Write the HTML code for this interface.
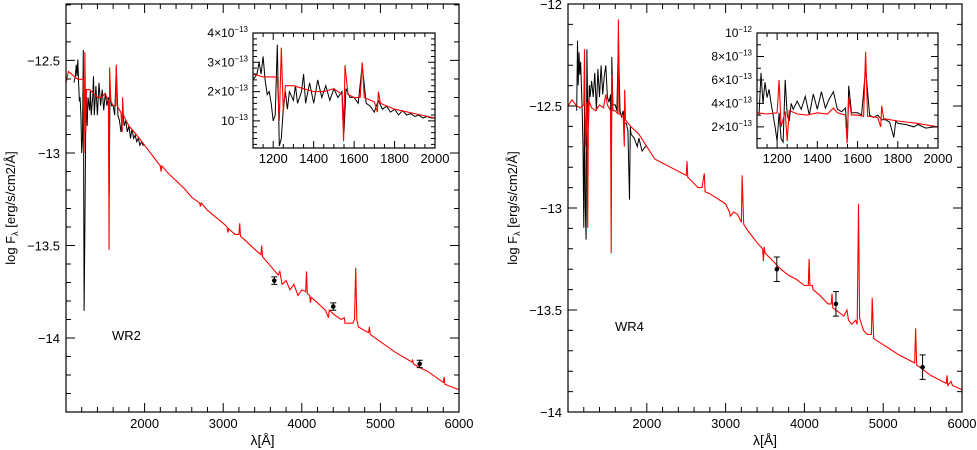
<!DOCTYPE html>
<html><head><meta charset="utf-8"><style>
html,body{margin:0;padding:0;background:#fff;}
svg{display:block;font-family:"Liberation Sans",sans-serif;}
</style></head><body>
<svg id="chart" width="977" height="450" viewBox="0 0 977 450" xmlns="http://www.w3.org/2000/svg"></svg>
<script>
// ---------- WR2 data ----------
const wr2InsetRedWl=[1100,1150,1200,1220,1230,1240,1250,1260,1300,1350,1400,1450,1500,1540,1548,1555,1570,1600,1630,1640,1650,1700,1715,1720,1730,1800,1900,2000];
const wr2InsetRedF=[2.6,2.5,2.5,2.5,1.0,3.5,1.3,2.2,2.2,2.1,2.0,2.0,2.1,1.9,0.3,2.9,1.9,1.8,1.8,3.0,1.8,1.65,1.3,2.0,1.6,1.4,1.25,1.1];
const wr2BlackWl=[1100,1120,1130,1140,1150,1160,1170,1180,1190,1200,1210,1220,1230,1240,1250,1260,1270,1280,1300,1310,1320,1340,1350,1360,1380,1400,1420,1440,1460,1480,1500,1520,1540,1550,1560,1580,1600,1620,1640,1660,1680,1700,1720,1740,1760,1780,1800,1820,1840,1860,1880,1900,1920,1940,1960,1980,2000];
const wr2BlackF=[2.4,2.6,3.0,2.6,3.2,2.4,1.9,2.0,1.6,1.0,1.2,3.6,0.14,0.4,1.4,2.0,1.4,2.0,1.7,2.2,1.6,2.0,2.6,1.6,2.3,1.6,2.4,1.8,2.2,1.7,2.1,1.8,2.0,0.6,2.1,1.8,1.8,1.6,2.9,1.6,1.5,1.3,1.7,1.4,1.5,1.3,1.4,1.2,1.35,1.2,1.25,1.15,1.2,1.1,1.15,1.1,1.1];
const wr2RedWl=[1000,1030,2200,2210,2220,2300,2500,2600,2700,2710,2720,2800,3000,3050,3060,3070,3150,3200,3210,3220,3300,3400,3480,3490,3500,3600,3700,3720,3750,3800,3850,3900,3950,4000,4050,4060,4070,4100,4110,4120,4200,4300,4340,4350,4400,4500,4540,4550,4600,4650,4670,4686,4700,4720,4800,4850,4860,4870,4900,5000,5200,5400,5410,5420,5500,5600,5800,5810,5820,6000];
const wr2RedLog=[-12.62,-12.56,-13.07,-13.1,-13.07,-13.11,-13.19,-13.24,-13.27,-13.29,-13.27,-13.31,-13.38,-13.4,-13.43,-13.41,-13.44,-13.44,-13.38,-13.45,-13.48,-13.52,-13.55,-13.5,-13.56,-13.61,-13.66,-13.64,-13.71,-13.69,-13.74,-13.71,-13.77,-13.74,-13.75,-13.64,-13.76,-13.77,-13.81,-13.78,-13.81,-13.85,-13.89,-13.85,-13.87,-13.9,-13.89,-13.92,-13.92,-13.92,-13.9,-13.62,-13.9,-13.94,-13.96,-13.97,-13.94,-13.98,-13.99,-14.02,-14.08,-14.13,-14.12,-14.14,-14.16,-14.18,-14.24,-14.21,-14.25,-14.28];
const wr2PhotWl=[3650,4400,5500];
const wr2PhotLog=[-13.69,-13.83,-14.14];
const wr2PhotErr=[0.02,0.02,0.02];
// ---------- WR4 data ----------
const wr4InsetRedWl=[1100,1150,1200,1210,1220,1240,1250,1260,1300,1350,1400,1450,1480,1500,1540,1548,1556,1570,1600,1630,1640,1650,1700,1715,1720,1730,1800,1900,2000];
const wr4InsetRedF=[3.2,3.1,3.2,6.0,2.0,3.3,0.8,3.4,3.1,3.0,3.2,3.1,3.6,3.2,3.0,0.6,4.5,3.0,3.0,2.9,8.4,2.9,2.8,2.0,3.8,2.7,2.5,2.3,2.0];
const wr4BlackWl=[1110,1120,1130,1140,1150,1160,1170,1180,1190,1200,1210,1220,1230,1240,1250,1260,1270,1280,1300,1320,1340,1360,1380,1400,1420,1440,1460,1480,1500,1520,1540,1550,1556,1570,1600,1620,1640,1660,1680,1700,1720,1740,1760,1780,1790,1800,1840,1880,1900,1940,1980,2000];
const wr4BlackF=[3.0,6.6,4.0,5.8,4.5,5.2,4.0,3.0,2.0,0.8,3.2,1.0,0.7,6.0,3.0,2.5,4.0,3.5,4.2,3.5,4.6,3.0,4.8,3.5,5.0,3.6,4.4,5.0,3.5,3.3,3.6,1.0,5.5,3.2,3.2,3.0,7.0,3.0,2.8,3.0,2.6,2.6,2.4,1.1,2.5,2.3,2.2,2.0,2.2,1.9,2.0,2.0];
const wr4RedWl=[1000,1050,2100,2200,2300,2400,2500,2510,2520,2600,2650,2700,2730,2740,2800,3000,3050,3060,3100,3150,3200,3210,3230,3300,3400,3470,3480,3490,3500,3600,3700,3800,3900,4000,4050,4060,4070,4100,4110,4200,4300,4340,4350,4360,4400,4500,4540,4560,4600,4650,4670,4686,4700,4750,4800,4850,4860,4880,5000,5200,5400,5411,5425,5500,5600,5800,5810,5820,5860,5880,6000];
const wr4RedLog=[-12.5,-12.47,-12.76,-12.78,-12.8,-12.82,-12.84,-12.77,-12.85,-12.88,-12.9,-12.9,-12.83,-12.92,-12.93,-12.98,-13.02,-13.04,-13.02,-13.03,-13.07,-12.84,-13.08,-13.12,-13.17,-13.2,-13.26,-13.19,-13.22,-13.26,-13.3,-13.33,-13.35,-13.38,-13.38,-13.25,-13.38,-13.38,-13.4,-13.43,-13.47,-13.47,-13.42,-13.49,-13.5,-13.53,-13.5,-13.55,-13.57,-13.55,-13.57,-12.98,-13.54,-13.6,-13.62,-13.62,-13.44,-13.64,-13.67,-13.72,-13.76,-13.59,-13.77,-13.79,-13.82,-13.86,-13.82,-13.87,-13.85,-13.87,-13.89];
const wr4PhotWl=[3650,4400,5500];
const wr4PhotLog=[-13.3,-13.47,-13.78];
const wr4PhotErr=[0.06,0.06,0.06];

const NS="http://www.w3.org/2000/svg";
const svg=document.getElementById('chart');
function mk(tag,attrs,parent){const e=document.createElementNS(NS,tag);for(const k in attrs)e.setAttribute(k,attrs[k]);(parent||svg).appendChild(e);return e;}
function scale(d0,d1,r0,r1){return v=>r0+(v-d0)/(d1-d0)*(r1-r0);}
function pathD(xs,ys,sx,sy){return xs.map((x,i)=>(i?'L':'M')+sx(x).toFixed(1)+','+sy(ys[i]).toFixed(1)).join('');}

function frame(g,x0,y0,x1,y1,sx,sy,xMaj,xMin,yMaj,yMin,majLen,minLen){
  mk('rect',{x:x0,y:y0,width:x1-x0,height:y1-y0,fill:'none',stroke:'#000','stroke-width':1.2},g);
  let d='';
  xMin.forEach(v=>{const x=sx(v);d+=`M${x},${y1}v${-minLen}M${x},${y0}v${minLen}`;});
  xMaj.forEach(v=>{const x=sx(v);d+=`M${x},${y1}v${-majLen}M${x},${y0}v${majLen}`;});
  yMin.forEach(v=>{const y=sy(v);d+=`M${x0},${y}h${minLen}M${x1},${y}h${-minLen}`;});
  yMaj.forEach(v=>{const y=sy(v);d+=`M${x0},${y}h${majLen}M${x1},${y}h${-majLen}`;});
  const t=mk('path',{d:d,stroke:'#000','stroke-width':1,fill:'none'},g);
  
  
}
function range(a,b,s){const r=[];for(let v=a;v<=b+1e-9;v+=s)r.push(+v.toFixed(6));return r;}

function panel(o){
  const g=mk('g',{});
  
  
  const sx=scale(1000,6000,o.x0,o.x1), sy=scale(o.yMin,o.yMax,o.y1,o.y0);
  const blackLog=o.bF.map(f=>-13+Math.log10(f));
  const redWl=[o.redWl[0],o.redWl[1]].concat(o.iRW).concat(o.redWl.slice(2));
  const redLog=[o.redLog[0],o.redLog[1]].concat(o.iRF.map(f=>-13+Math.log10(f))).concat(o.redLog.slice(2));
  const bl=mk('path',{d:pathD(o.bW,blackLog,sx,sy),stroke:'#000','stroke-width':1,fill:'none'},g);
  
  
  const rd=mk('path',{d:pathD(redWl,redLog,sx,sy),stroke:'#f00','stroke-width':1.1,fill:'none'},g);
  
  
  o.pW.forEach((w,i)=>{
    const x=sx(w),y=sy(o.pL[i]),ya=sy(o.pL[i]+o.pE[i]),yb=sy(o.pL[i]-o.pE[i]);
    const p=mk('path',{d:`M${x},${ya}V${yb}M${x-3},${ya}h6M${x-3},${yb}h6`,stroke:'#000','stroke-width':1,fill:'none'},g);
    
    
    const c=mk('circle',{cx:x,cy:y,r:2.3,fill:'#000'},g);
    
    
  });
  frame(g,o.x0,o.y0,o.x1,o.y1,sx,sy,range(2000,6000,1000),range(1200,6000,200),o.yMaj,o.yMinor,9,5);
  range(2000,6000,1000).forEach(v=>{
    const t=mk('text',{x:sx(v),y:o.y1+16,'font-size':13,'text-anchor':'middle'},g);t.textContent=v;
    
  });
  o.yMaj.forEach(v=>{
    const t=mk('text',{x:o.x0-6,y:sy(v)+5,'font-size':13,'text-anchor':'end'},g);t.textContent=String(v).replace('-','\u2212');
    
  });
  const xl=mk('text',{x:(o.x0+o.x1)/2,y:445,'font-size':14,'text-anchor':'middle'},g);xl.textContent='λ[Å]';
  
  const yl=mk('text',{x:0,y:0,'font-size':13,'text-anchor':'middle',transform:`translate(${o.ylx},${(o.y0+o.y1)/2}) rotate(-90)`},g);
  yl.innerHTML='log F<tspan font-size="9" dy="3">λ</tspan><tspan dy="-3"> [erg/s/cm2/Å]</tspan>';
  
  const lb=mk('text',{x:o.lx,y:o.ly,'font-size':13},g);lb.textContent=o.label;
  
  const ig=mk('g',{},g);
  
  
  const isx=scale(1100,2000,o.ix0,o.ix1), isy=scale(o.iyMin,o.iyMax,o.iy1,o.iy0);
  mk('rect',{x:o.ix0,y:o.iy0,width:o.ix1-o.ix0,height:o.iy1-o.iy0,fill:'#fff'},ig);
  const ib=mk('path',{d:pathD(o.bW,o.bF,isx,isy),stroke:'#000','stroke-width':1,fill:'none'},ig);
  
  const ir=mk('path',{d:pathD(o.iRW,o.iRF,isx,isy),stroke:'#f00','stroke-width':1.1,fill:'none'},ig);
  
  frame(ig,o.ix0,o.iy0,o.ix1,o.iy1,isx,isy,range(1200,2000,200),range(1100,2000,50),o.iyMaj,o.iyMinor,7,4);
  range(1200,2000,200).forEach(v=>{
    const t=mk('text',{x:isx(v),y:o.iy1+15,'font-size':13,'text-anchor':'middle'},ig);t.textContent=v;
    
  });
  o.iyMaj.forEach((v,i)=>{
    const t=mk('text',{x:o.ix0-5,y:isy(v)+4,'font-size':12,'text-anchor':'end'},ig);
    t.innerHTML=o.iyLab[i];
    
  });
}
const sup=(m,e)=>(m?m+'×':'')+'10<tspan font-size="8" dy="-5">−'+e+'</tspan>';
panel({name:'wr2-panel',x0:66,x1:459,y0:4,y1:412,yMin:-14.4,yMax:-12.195,
  yMaj:[-12.5,-13,-13.5,-14],yMinor:range(-14.4,-12.2,0.1),
  bW:wr2BlackWl,bF:wr2BlackF,iRW:wr2InsetRedWl,iRF:wr2InsetRedF,redWl:wr2RedWl,redLog:wr2RedLog,
  pW:wr2PhotWl,pL:wr2PhotLog,pE:wr2PhotErr,ylx:15,label:'WR2',lx:112,ly:340,
  ix0:253,ix1:435,iy0:33,iy1:148,iyMin:0.075,iyMax:4,iyMaj:[1,2,3,4],iyMinor:range(0.2,4,0.2),
  iyLab:[sup('',13),sup('2',13),sup('3',13),sup('4',13)]});
panel({name:'wr4-panel',x0:568,x1:962,y0:4,y1:412,yMin:-14,yMax:-12,
  yMaj:[-12,-12.5,-13,-13.5,-14],yMinor:range(-14,-12,0.1),
  bW:wr4BlackWl,bF:wr4BlackF,iRW:wr4InsetRedWl,iRF:wr4InsetRedF,redWl:wr4RedWl,redLog:wr4RedLog,
  pW:wr4PhotWl,pL:wr4PhotLog,pE:wr4PhotErr,ylx:517,label:'WR4',lx:615,ly:331,
  ix0:757,ix1:938,iy0:33,iy1:148,iyMin:0.2,iyMax:10,iyMaj:[2,4,6,8,10],iyMinor:range(1,10,1),
  iyLab:[sup('2',13),sup('4',13),sup('6',13),sup('8',13),sup('',12)]});
</script>
</body></html>
